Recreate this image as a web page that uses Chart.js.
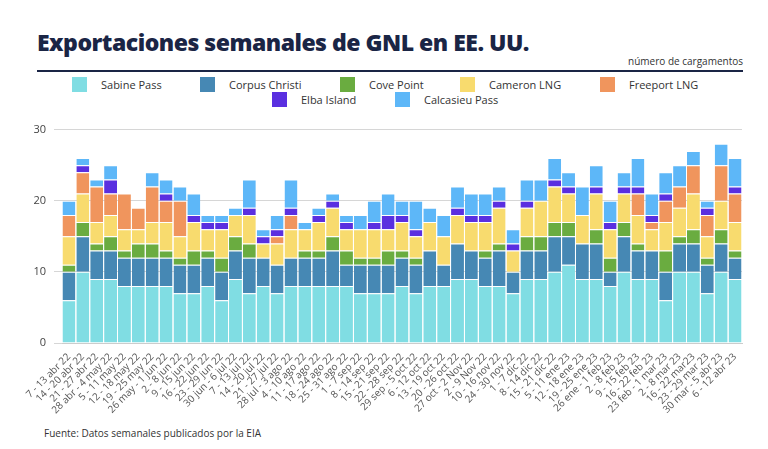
<!DOCTYPE html>
<html><head><meta charset="utf-8">
<script src="https://cdn.jsdelivr.net/npm/chart.js@4"></script>
<style>
body{margin:0;width:768px;height:449px;background:#fff;font-family:"Open Sans",sans-serif;position:relative;overflow:hidden}
#title{position:absolute;left:37px;top:26px;font-family:"Open Sans";font-weight:800;font-size:23px;color:#1a2545;letter-spacing:-0.5px}
#rule{position:absolute;left:37px;top:70px;width:706px;height:2px;background:#1a2545}
#unit{position:absolute;right:25px;top:54px;font-size:10px;color:#333}
.lg{position:absolute;font-size:11px;color:#333;display:flex;align-items:center}
.lg i{display:inline-block;width:15px;height:15px;margin-right:14px}
#foot{position:absolute;left:44px;top:426px;font-size:10px;color:#333}
#wrap{position:absolute;left:20px;top:115px;width:740px;height:310px}
</style></head><body>
<div id="title">Exportaciones semanales de GNL en EE. UU.</div>
<div id="unit">número de cargamentos</div>
<div id="rule"></div>
<div id="legend"></div>
<div id="wrap"><canvas id="c"></canvas></div>
<div id="foot">Fuente: Datos semanales publicados por la EIA</div>
<script>
const labels=["7 - 13 abr 22","14 - 20 abr 22","21 - 27 abr 22","28 abr - 4 may 22","5 - 11 may 22","12 - 18 may 22","19 - 25 may 22","26 may - 1 jun 22","2 - 8 jun 22","9 - 15 jun 22","16 - 22 jun 22","23 - 29 jun 22","30 jun - 6 jul 22","7 - 13 jul 22","14 - 20 jul 22","21 - 27 jul 22","28 jul - 3 ago 22","4 - 10 ago 22","11 - 17 ago 22","18 - 24 ago 22","25 - 31 ago 22","1 - 7 sep 22","8 - 14 sep 22","15 - 21 sep 22","22 - 28 sep 22","29 sep - 5 oct 22","6 - 12 oct 22","13 - 19 oct 22","20 - 26 oct 22","27 oct - 2 Nov 22","2 - 9 Nov 22","10 - 16 nov 22","24 - 30 nov 22","1 - 7 dic 22","8 - 14 dic 22","15 - 21 dic 22","5 - 11 ene 23","12 - 18 ene 23","19 - 25 ene 23","26 ene - 1 feb 23","2 - 8 feb 23","9 - 15 feb 23","16 - 22 feb 23","23 feb - 1 mar 23","2 - 8 mar 23","16 - 22 mar23","23 - 29 mar 23","30 mar - 5 abr 23","6 - 12 abr 23"];
const sabinePass=[6,10,9,9,8,8,8,8,7,7,8,6,9,7,8,7,8,8,8,8,8,7,7,7,8,7,8,8,9,9,8,8,7,9,9,10,11,9,9,8,10,9,9,6,10,10,7,10,9];
const corpusChristi=[4,5,4,4,4,4,4,4,4,4,4,4,4,5,4,4,4,4,4,5,3,4,4,4,4,4,5,3,5,4,4,5,3,4,4,5,4,5,5,2,5,4,4,4,4,4,4,4,3];
const covePoint=[1,2,1,2,1,2,2,1,1,2,1,2,2,2,0,0,0,1,1,2,2,1,1,2,1,1,0,0,0,0,1,1,0,2,2,2,2,0,2,2,2,1,0,3,1,2,1,2,1];
const cameronLNG=[4,4,3,3,3,2,3,4,3,4,3,4,3,4,2,3,4,3,4,4,3,4,4,3,4,3,4,4,4,4,4,5,3,4,5,5,4,4,5,4,4,4,3,4,4,5,3,4,4];
const freeportLNG=[3,3,5,3,5,3,5,3,5,0,0,0,0,0,0,1,2,0,0,0,0,0,0,0,0,0,0,0,0,0,0,0,0,0,0,0,0,0,0,0,0,3,1,3,3,4,3,5,4];
const elbaIsland=[0,1,0,2,0,0,0,1,0,1,1,1,0,1,1,1,1,0,1,1,1,0,1,2,1,1,0,0,1,1,1,1,1,1,0,1,1,0,1,1,1,1,1,1,0,0,1,0,1];
const calcasieuPass=[2,1,1,2,0,0,2,2,2,3,1,1,1,4,1,2,4,1,1,1,1,2,3,3,2,4,2,3,3,3,3,2,2,3,3,3,2,4,3,3,2,4,3,3,3,2,1,3,4];
const names=["Sabine Pass","Corpus Christi","Cove Point","Cameron LNG","Freeport LNG","Elba Island","Calcasieu Pass"];
const colors=["#80dde3","#4688b4","#6aac40","#f8db6e","#f0955d","#5a2fe0","#5db7f8"];
const series=[sabinePass,corpusChristi,covePoint,cameronLNG,freeportLNG,elbaIsland,calcasieuPass];
const yTicks=[0,10,20,30];

const lgPos=[[72,77],[200,77],[340,77],[460,77],[600,77],[272,92],[395,92]];
const lg=document.getElementById('legend');
names.forEach((n,i)=>{const d=document.createElement('div');d.className='lg';d.style.left=lgPos[i][0]+'px';d.style.top=lgPos[i][1]+'px';d.innerHTML='<i style="background:'+colors[i]+'"></i>'+n;lg.appendChild(d);});

new Chart(document.getElementById('c'),{type:'bar',
data:{labels,datasets:series.map((s,i)=>({label:names[i],data:s,backgroundColor:colors[i],borderColor:'rgba(255,255,255,0.6)',borderWidth:{top:1},barPercentage:0.93,categoryPercentage:1}))},
options:{responsive:true,maintainAspectRatio:false,animation:false,
layout:{padding:{top:10,right:18}},
plugins:{legend:{display:false},tooltip:{enabled:false}},
scales:{
x:{stacked:true,grid:{display:false},border:{color:'#ccc'},ticks:{color:'#555',font:{family:'Open Sans',size:10},maxRotation:45,minRotation:45,autoSkip:false,padding:0},afterFit:a=>{a.height=82}},
y:{stacked:true,min:0,max:30,afterBuildTicks:a=>{a.ticks=yTicks.map(v=>({value:v}))},grid:{color:'#d6d6d6'},border:{display:false},ticks:{color:'#444',font:{family:'Open Sans',size:11},padding:8},afterFit:a=>{a.width=42}}
}}});
</script></body></html>
